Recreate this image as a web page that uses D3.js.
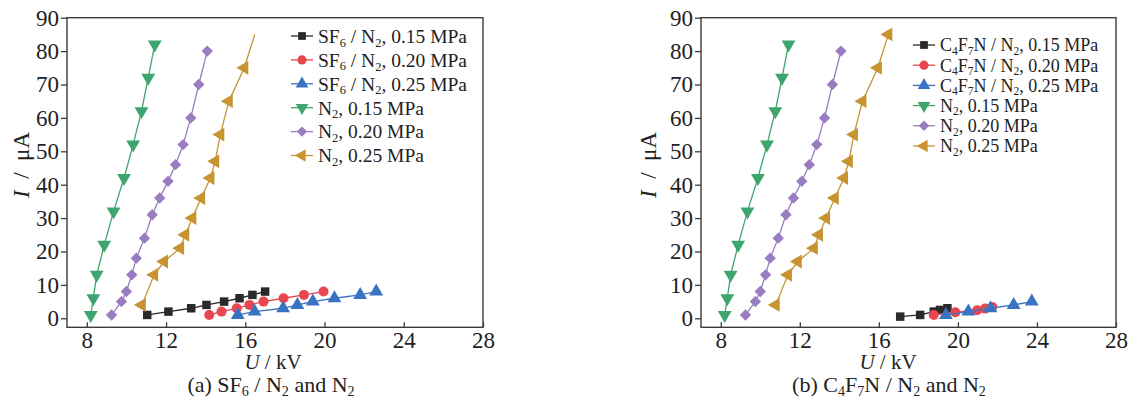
<!DOCTYPE html>
<html>
<head>
<meta charset="utf-8">
<script src="https://cdn.jsdelivr.net/npm/d3@7"></script>
<style>
  body { margin: 0; background: #fff; }
  svg text { font-family: "Liberation Serif", "Times New Roman", serif; fill: #222; }
</style>
</head>
<body>
<svg id="chart" width="1132" height="405"></svg>
<script>
// ---- data ----
const uTicks = [8, 12, 16, 20, 24, 28];
const iTicks = [0, 10, 20, 30, 40, 50, 60, 70, 80, 90];

// pure N2, shared by both panels
const n2_015_U = [8.2, 8.33, 8.5, 8.88, 9.35, 9.88, 10.34, 10.76, 11.1, 11.43];
const n2_015_I = [1, 6, 13, 22, 32, 42, 52, 62, 72, 82];
const n2_020_U = [9.25, 9.75, 10.0, 10.27, 10.5, 10.91, 11.3, 11.68, 12.1, 12.48, 12.86, 13.25, 13.65, 14.08];
const n2_020_I = [1, 5, 8, 13, 18, 24, 31, 36, 41, 46, 52, 60, 70, 80];
const n2_025_U = [10.78, 11.4, 11.9, 12.71, 12.97, 13.33, 13.77, 14.24, 14.48, 14.74, 15.17, 15.95, 16.48];
const n2_025_I = [4, 13, 17, 21, 25, 30, 36, 42, 47, 55, 65, 75, 85];

// SF6 / N2
const sf6_015_U = [11.05, 12.12, 13.27, 14.04, 14.93, 15.71, 16.36, 17.0];
const sf6_015_I = [1, 2, 3, 4, 5, 6, 7, 8];
const sf6_020_U = [14.18, 14.8, 15.57, 16.21, 16.92, 17.93, 18.96, 19.95];
const sf6_020_I = [1, 2, 3, 4, 5, 6, 7, 8];
const sf6_025_U = [15.62, 16.47, 17.91, 18.63, 19.41, 20.5, 21.8, 22.61];
const sf6_025_I = [1, 2, 3, 4, 5, 6, 7, 8];

// C4F7N / N2
const c4_015_U = [17.08, 18.09, 18.78, 19.09, 19.47];
const c4_015_I = [0.5, 1, 2, 2.5, 3];
const c4_020_U = [18.78, 19.87, 20.97, 21.37, 21.74];
const c4_020_I = [1, 1.8, 2.4, 2.9, 3.4];
const c4_025_U = [19.39, 20.53, 21.65, 22.82, 23.74];
const c4_025_I = [1, 2, 3, 4, 5];

const pressures = ["0.15", "0.20", "0.25"];

const colors = ["#2a2a2a", "#e8474f", "#3a73c1", "#3fa56f", "#9a7cc0", "#c89431"];
const shapes = ["square", "circle", "triangleUp", "triangleDown", "diamond", "triangleLeft"];

const zip = (u, i) => u.map((d, k) => [d, i[k]]);

const n2Series = [
  zip(n2_015_U, n2_015_I),
  zip(n2_020_U, n2_020_I),
  zip(n2_025_U, n2_025_I),
];

const panels = [
  {
    x0: 67, x1: 483,
    gas: [zip(sf6_015_U, sf6_015_I), zip(sf6_020_U, sf6_020_I), zip(sf6_025_U, sf6_025_I)],
    gasName: ["SF", ["6"], " / N", ["2"]],
    caption: ["(a) SF", ["6"], " / N", ["2"], " and N", ["2"]],
    // in panel (a) the last N2 0.25 MPa point has no marker
    hideLastMarker: true,
    legend: { x: 291, y: 36, dy: 23.9, size: 19.5 },
    yLabelX: 21, xLabelX: 273, captionX: 271,
  },
  {
    x0: 701, x1: 1116,
    gas: [zip(c4_015_U, c4_015_I), zip(c4_020_U, c4_020_I), zip(c4_025_U, c4_025_I)],
    gasName: ["C", ["4"], "F", ["7"], "N / N", ["2"]],
    caption: ["(b) C", ["4"], "F", ["7"], "N / N", ["2"], " and N", ["2"]],
    hideLastMarker: false,
    legend: { x: 913, y: 45, dy: 20.2, size: 18 },
    yLabelX: 648, xLabelX: 888, captionX: 889,
  },
];

const svg = d3.select("#chart");
const yTop = 17.7, yBottom = 327.3;

// text with subscripts: parts are strings or [sub]
function richText(t, parts) {
  let down = false;
  parts.forEach((p) => {
    if (Array.isArray(p)) {
      t.append("tspan").attr("dy", "0.3em").style("font-size", "0.64em").text(p[0]);
      down = true;
    } else {
      const s = t.append("tspan").text(p);
      if (down) s.attr("dy", "-0.19em");
      down = false;
    }
  });
  return t;
}

function markerPath(shape, s) {
  const tri = d3.symbol().type(d3.symbolTriangle).size(s * 1.15)();
  switch (shape) {
    case "square": return { d: d3.symbol().type(d3.symbolSquare).size(s)(), rot: 0 };
    case "circle": return { d: d3.symbol().type(d3.symbolCircle).size(s * 1.1)(), rot: 0 };
    case "triangleUp": return { d: tri, rot: 0 };
    case "triangleDown": return { d: tri, rot: 180 };
    case "triangleLeft": return { d: tri, rot: -90 };
    case "diamond": return { d: d3.symbol().type(d3.symbolSquare).size(s * 0.9)(), rot: 45 };
  }
}

function drawSeries(g, pts, k, x, y, hideLast) {
  const line = d3.line().x((d) => x(d[0])).y((d) => y(d[1]));
  g.append("path")
    .attr("d", line(pts))
    .attr("fill", "none")
    .attr("stroke", colors[k])
    .attr("stroke-width", 1.3);
  const m = markerPath(shapes[k], 72);
  const shown = hideLast ? pts.slice(0, -1) : pts;
  g.selectAll(null)
    .data(shown)
    .join("path")
    .attr("d", m.d)
    .attr("fill", colors[k])
    .attr("transform", (d) => `translate(${x(d[0])},${y(d[1])}) rotate(${m.rot})`);
}

panels.forEach((p) => {
  const x = d3.scaleLinear().domain([7, 28]).range([p.x0, p.x1]);
  const y = d3.scaleLinear().domain([-2.7, 90]).range([yBottom, yTop]);
  const g = svg.append("g");

  // frame
  g.append("rect")
    .attr("x", p.x0).attr("y", yTop)
    .attr("width", p.x1 - p.x0).attr("height", yBottom - yTop)
    .attr("fill", "none").attr("stroke", "#3c3c3c").attr("stroke-width", 1.4);

  // y axis, ticks outward
  const yAxis = g.append("g")
    .attr("transform", `translate(${p.x0},0)`)
    .call(d3.axisLeft(y).tickValues(iTicks).tickSize(6).tickPadding(2));
  yAxis.select(".domain").remove();
  yAxis.selectAll("line").attr("stroke", "#3c3c3c").attr("stroke-width", 1.3);
  yAxis.selectAll("text").style("font-size", "23px").attr("fill", "#222");

  // x axis, ticks inward
  const xAxis = g.append("g")
    .attr("transform", `translate(0,${yBottom})`)
    .call(d3.axisBottom(x).tickValues(uTicks).tickSize(-5).tickPadding(4));
  xAxis.select(".domain").remove();
  xAxis.selectAll("line").attr("stroke", "#3c3c3c").attr("stroke-width", 1.3);
  xAxis.selectAll("text").style("font-size", "23px").attr("fill", "#222");

  // axis titles
  const yl = g.append("text")
    .attr("transform", `translate(${p.yLabelX},165) rotate(-90)`)
    .attr("text-anchor", "middle")
    .attr("dy", "0.35em")
    .style("font-size", "23px");
  yl.append("tspan").style("font-style", "italic").text("I");
  yl.append("tspan").text("\u2002/\u2002\u03bcA");

  const xl = g.append("text")
    .attr("x", p.xLabelX).attr("y", 369)
    .attr("text-anchor", "middle")
    .style("font-size", "21px");
  xl.append("tspan").style("font-style", "italic").text("U");
  xl.append("tspan").text(" / kV");

  richText(
    g.append("text")
      .attr("x", p.captionX).attr("y", 392)
      .attr("text-anchor", "middle")
      .style("font-size", "22px"),
    p.caption
  );

  // series: gas mixtures first, then pure N2
  const all = p.gas.concat(n2Series);
  all.forEach((pts, k) => {
    drawSeries(g, pts, k, x, y, p.hideLastMarker && k === 5);
  });

  // legend
  const leg = g.append("g").attr("transform", `translate(${p.legend.x},${p.legend.y})`);
  all.forEach((pts, k) => {
    const row = leg.append("g").attr("transform", `translate(0,${k * p.legend.dy})`);
    row.append("line")
      .attr("x1", 0).attr("x2", 22)
      .attr("stroke", colors[k]).attr("stroke-width", 1.3);
    const m = markerPath(shapes[k], 60);
    row.append("path")
      .attr("d", m.d)
      .attr("fill", colors[k])
      .attr("transform", `translate(11,0) rotate(${m.rot})`);
    const name = k < 3 ? p.gasName : ["N", ["2"]];
    richText(
      row.append("text")
        .attr("x", 27).attr("dy", "0.35em")
        .style("font-size", p.legend.size + "px"),
      name.concat([", " + pressures[k % 3] + " MPa"])
    );
  });
});
</script>
</body>
</html>
